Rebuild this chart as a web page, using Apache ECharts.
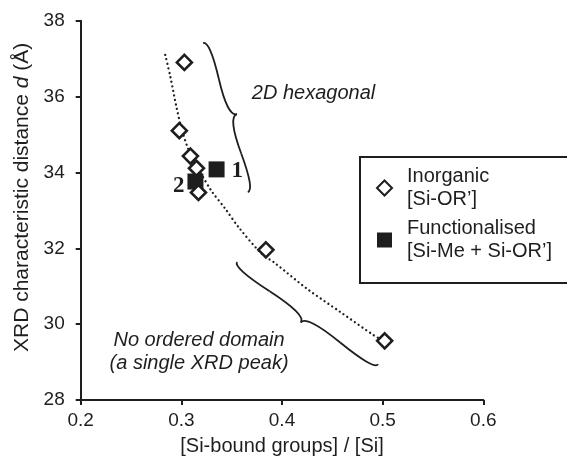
<!DOCTYPE html>
<html><head><meta charset="utf-8">
<script src="https://cdn.jsdelivr.net/npm/echarts@6/dist/echarts.min.js"></script>
<style>html,body{margin:0;padding:0;background:#fff}#c{width:567px;height:461px}</style>
</head><body><div id="c"></div>
<script>
// ---- data ----
const inorganicX = [0.303, 0.298, 0.309, 0.315, 0.317, 0.384, 0.502];
const inorganicY = [36.90, 35.10, 34.43, 34.11, 33.47, 31.96, 29.56];
const functionalX = [0.335, 0.314];
const functionalY = [34.08, 33.76];
const functionalLabels = ['1', '2'];
const trendX = [0.284, 0.289, 0.295, 0.300, 0.307, 0.319, 0.330, 0.344, 0.357, 0.380, 0.392, 0.425, 0.458, 0.491, 0.501];
const trendY = [37.10, 36.53, 35.74, 35.18, 34.61, 34.00, 33.51, 33.03, 32.55, 31.85, 31.63, 30.93, 30.32, 29.71, 29.56];
const seriesNames = ['Inorganic', 'Functionalised'];
const legendLabels = ['Inorganic\n[Si-OR\u2019]', 'Functionalised\n[Si-Me + Si-OR\u2019]'];
const xMin = 0.2, xMax = 0.6, xStep = 0.1;
const yMin = 28, yMax = 38, yStep = 2;
// annotation anchors (data space)
const braceHex = [[0.366, 33.48], [0.3216, 37.41]];
const braceNone = [[0.3554, 31.64], [0.4955, 28.94]];
const hexText = '2D hexagonal';
const hexAnchor = [0.370, 36.08];
const noneText = 'No ordered domain\n(a single XRD peak)';
const noneAnchor = [0.3176, 29.27];

const FONT = "'Liberation Sans', Arial, sans-serif";
const INK = '#1e1e1e';

const chart = echarts.init(document.getElementById('c'), null, {renderer: 'canvas'});

const option = {
  animation: false,
  backgroundColor: '#fff',
  grid: {left: 80.7, right: 83.7, top: 20.7, bottom: 60},
  xAxis: {
    type: 'value', min: xMin, max: xMax, interval: xStep,
    name: '[Si-bound groups] / [Si]', nameLocation: 'middle', nameGap: 36,
    nameTextStyle: {fontFamily: FONT, fontSize: 20, color: INK},
    axisLine: {lineStyle: {color: INK, width: 2}},
    axisTick: {show: true, inside: false, length: 5, lineStyle: {color: INK, width: 2}},
    axisLabel: {fontFamily: FONT, fontSize: 19, color: INK, margin: 11, formatter: v => v.toFixed(1)},
    splitLine: {show: false}
  },
  yAxis: {
    type: 'value', min: yMin, max: yMax, interval: yStep,
    name: 'XRD characteristic distance {i|d} (\u00c5)', nameLocation: 'middle', nameGap: 39,
    nameTextStyle: {fontFamily: FONT, fontSize: 21, color: INK, padding: [0, 0, 0, 26],
      rich: {i: {fontFamily: FONT, fontSize: 21, fontStyle: 'italic', color: INK}}},
    axisLine: {lineStyle: {color: INK, width: 2}},
    axisTick: {show: true, inside: false, length: 5, lineStyle: {color: INK, width: 2}},
    axisLabel: {fontFamily: FONT, fontSize: 19, color: INK, margin: 16},
    splitLine: {show: false}
  },
  legend: {
    orient: 'vertical', left: 360, top: 157,
    padding: [1.5, 24, 9.5, 16],
    itemGap: -11, itemWidth: 15, itemHeight: 15,
    borderColor: INK, borderWidth: 2, borderRadius: 0,
    textStyle: {fontFamily: FONT, fontSize: 20, lineHeight: 23, color: INK},
    formatter: name => legendLabels[seriesNames.indexOf(name)],
    data: [
      {name: seriesNames[0], textStyle: {padding: [13, 0, 0, 10]}},
      {name: seriesNames[1], textStyle: {padding: [21, 0, 0, 10]}}
    ]
  },
  series: [
    {
      type: 'line', name: 'trend', data: trendX.map((x, i) => [x, trendY[i]]),
      showSymbol: false, symbol: 'none', smooth: 0.3, z: 1,
      lineStyle: {color: INK, width: 2.3, type: [0.01, 4.6], cap: 'round'},
      silent: true
    },
    {
      type: 'scatter', name: seriesNames[1], z: 3,
      data: functionalX.map((x, i) => ({
        value: [x, functionalY[i]],
        label: i === 0
          ? {show: true, position: 'right', distance: 7, offset: [0, 2], formatter: functionalLabels[i]}
          : {show: true, position: 'left', distance: 3, offset: [0, 5], formatter: functionalLabels[i]}
      })),
      symbol: 'rect', symbolSize: 16,
      itemStyle: {color: INK, opacity: 1},
      label: {fontFamily: "'Liberation Serif', 'Times New Roman', serif", fontWeight: 'bold', fontSize: 23, color: INK}
    },
    {
      type: 'scatter', name: seriesNames[0], z: 4,
      data: inorganicX.map((x, i) => [x, inorganicY[i]]),
      symbol: 'diamond', symbolSize: 15,
      itemStyle: {color: '#fff', borderColor: INK, borderWidth: 2.6, opacity: 1}
    }
  ]
};
chart.setOption(option);

// curly brace as four quadratic bezier segments
function braceCurves(p1, p2, w, q) {
  const [x1, y1] = p1, [x2, y2] = p2;
  const len = Math.hypot(x1 - x2, y1 - y2);
  const dx = (x1 - x2) / len, dy = (y1 - y2) / len;
  const qx1 = x1 + q * w * dy, qy1 = y1 - q * w * dx;
  const qx2 = (x1 - 0.25 * len * dx) + (1 - q) * w * dy, qy2 = (y1 - 0.25 * len * dy) - (1 - q) * w * dx;
  const tx = (x1 - 0.5 * len * dx) + w * dy, ty = (y1 - 0.5 * len * dy) - w * dx;
  const qx3 = x2 + q * w * dy, qy3 = y2 - q * w * dx;
  const qx4 = (x1 - 0.75 * len * dx) + (1 - q) * w * dy, qy4 = (y1 - 0.75 * len * dy) - (1 - q) * w * dx;
  const segs = [
    [x1, y1, qx1, qy1, qx2, qy2],
    [qx2, qy2, 2 * qx2 - qx1, 2 * qy2 - qy1, tx, ty],
    [x2, y2, qx3, qy3, qx4, qy4],
    [qx4, qy4, 2 * qx4 - qx3, 2 * qy4 - qy3, tx, ty]
  ];
  return segs.map(s => ({
    type: 'bezierCurve', silent: true,
    shape: {x1: s[0], y1: s[1], cpx1: s[2], cpy1: s[3], x2: s[4], y2: s[5]},
    style: {stroke: INK, lineWidth: 1.8, fill: null}
  }));
}
const px = p => chart.convertToPixel({gridIndex: 0}, p);
const hexPos = px(hexAnchor), nonePos = px(noneAnchor);
chart.setOption({
  graphic: [].concat(
    braceCurves(px(braceHex[0]), px(braceHex[1]), 12, 0.6),
    braceCurves(px(braceNone[0]), px(braceNone[1]), 11.5, 0.6),
    [
      {type: 'text', silent: true, x: hexPos[0], y: hexPos[1],
       style: {text: hexText, font: `italic 20px ${FONT}`, fill: INK, align: 'left', verticalAlign: 'middle'}},
      {type: 'text', silent: true, x: nonePos[0], y: nonePos[1],
       style: {text: noneText, font: `italic 20px ${FONT}`, fill: INK, align: 'center', verticalAlign: 'middle', lineHeight: 23}}
    ]
  )
});
</script></body></html>
